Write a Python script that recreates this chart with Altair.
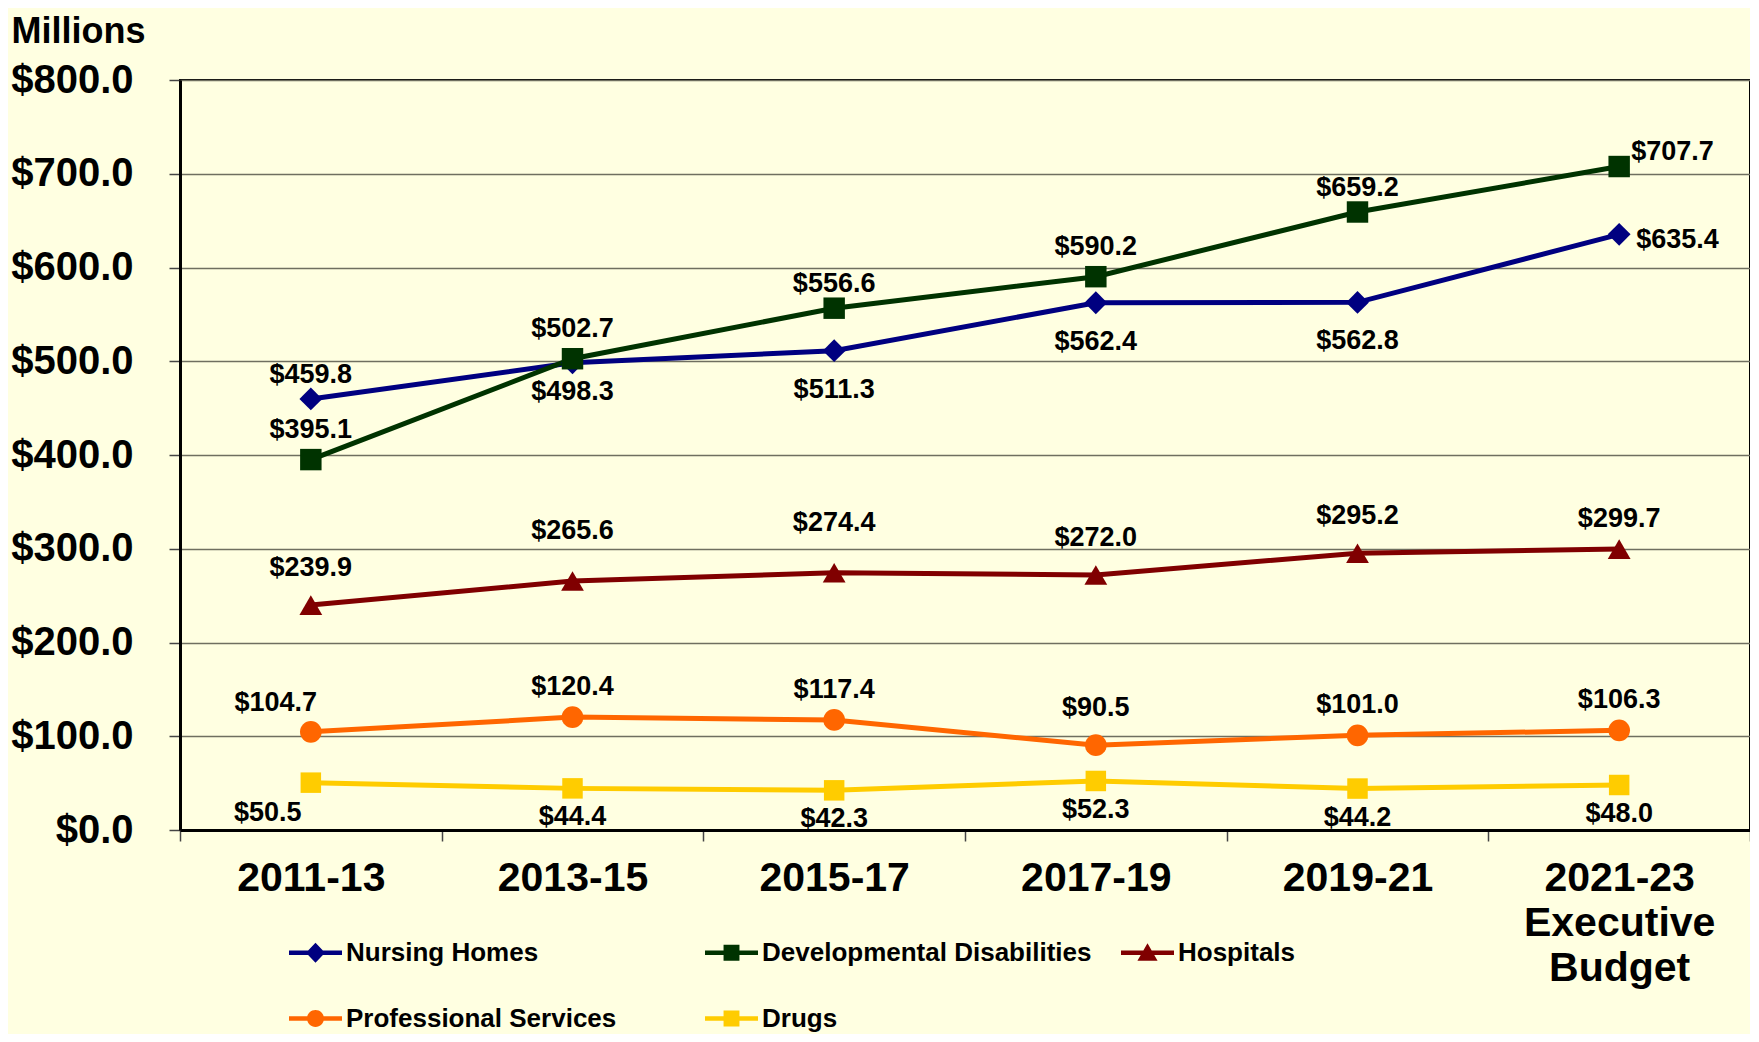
import altair as alt
import pandas as pd

# ---------------- data ----------------
PERIODS = ["2011-13", "2013-15", "2015-17", "2017-19", "2019-21", "2021-23\nExecutive\nBudget"]
SERIES = ["Nursing Homes", "Developmental Disabilities", "Hospitals", "Professional Services", "Drugs"]

NURSING_HOMES = [459.8, 498.3, 511.3, 562.4, 562.8, 635.4]
DEVELOPMENTAL = [395.1, 502.7, 556.6, 590.2, 659.2, 707.7]
HOSPITALS = [239.9, 265.6, 274.4, 272.0, 295.2, 299.7]
PROFESSIONAL = [104.7, 120.4, 117.4, 90.5, 101.0, 106.3]
DRUGS = [50.5, 44.4, 42.3, 52.3, 44.2, 48.0]
VALUES = [NURSING_HOMES, DEVELOPMENTAL, HOSPITALS, PROFESSIONAL, DRUGS]

# label placement (semantic codes, mapped to offsets below)
PLACE_NH = ["near-above", "below", "low", "low", "low", "right"]
PLACE_DD = ["above", "above", "near-above", "above", "near-above", "right-above"]
PLACE_HO = ["mid", "high", "high", "mid", "mid", "above"]
PLACE_PS = ["above-left", "above", "above", "mid", "above", "above"]
PLACE_DR = ["below-left", "below", "below", "below", "below", "below"]
PLACES = [PLACE_NH, PLACE_DD, PLACE_HO, PLACE_PS, PLACE_DR]

# ---------------- styles ----------------
COLORS = ["#000080", "#003300", "#800000", "#FF6600", "#FFCC00"]
MARKERS = ["diamond", "square", "triangle-up", "circle", "square"]
MARKER_SIZES = [520, 460, 520, 470, 420]
BG = "#FFFFE1"
FONT = "Liberation Sans"

PLACE_STYLE = {
    "near-above": dict(dx=0, dy=-24, align="center"),
    "above": dict(dx=0, dy=-30, align="center"),
    "mid": dict(dx=0, dy=-37, align="center"),
    "high": dict(dx=0, dy=-50, align="center"),
    "below": dict(dx=0, dy=29, align="center"),
    "low": dict(dx=0, dy=39, align="center"),
    "above-left": dict(dx=-35, dy=-29, align="center"),
    "below-left": dict(dx=-43, dy=30, align="center"),
    "right": dict(dx=17, dy=6, align="left"),
    "right-above": dict(dx=12, dy=-15, align="left"),
}

# legend symbols: a line segment with the series marker in its middle
LINE = "M-1,-0.085L1,-0.085L1,0.085L-1,0.085Z"
LEGEND_PATHS = [
    LINE + "M-0.36,0L0,-0.38L0.36,0L0,0.38Z",
    LINE + "M-0.3,-0.3L0.3,-0.3L0.3,0.3L-0.3,0.3Z",
    LINE + "M0,-0.36L0.38,0.3L-0.38,0.3Z",
    LINE + "M-0.32,0A0.32,0.32 0 1,1 0.32,0A0.32,0.32 0 1,1 -0.32,0Z",
    LINE + "M-0.3,-0.3L0.3,-0.3L0.3,0.3L-0.3,0.3Z",
]

rows = []
for s, vals, places in zip(SERIES, VALUES, PLACES):
    for p, v, pl in zip(PERIODS, vals, places):
        rows.append({"series": s, "period": p, "value": v, "place": pl})
df = pd.DataFrame(rows)

W, H = 1570, 750

x_enc = alt.X(
    "period:N",
    sort=PERIODS,
    scale=alt.Scale(type="band", domain=PERIODS, paddingInner=0, paddingOuter=0),
    axis=alt.Axis(
        title=None,
        tickBand="extent",
        ticks=True,
        tickSize=11,
        tickColor="#444444",
        tickWidth=1.5,
        domainColor="black",
        domainWidth=3,
        labelAngle=0,
        labelFont=FONT,
        labelFontSize=41,
        labelFontWeight="bold",
        labelColor="black",
        labelPadding=17,
        labelLineHeight=45,
        labelLimit=500,
        labelExpr="split(datum.label, '\\n')",
        labelBaseline="top",
        grid=False,
    ),
)

y_enc = alt.Y(
    "value:Q",
    scale=alt.Scale(domain=[0, 800], nice=False),
    axis=alt.Axis(
        values=list(range(0, 801, 100)),
        format="$.1f",
        labelFont=FONT,
        labelFontSize=40,
        labelFontWeight="bold",
        labelColor="black",
        labelPadding=36,
        tickSize=11,
        tickColor="#444444",
        tickWidth=1.5,
        domainColor="black",
        domainWidth=3,
        gridColor="#6f6f60",
        gridWidth=1.5,
        title="Millions",
        titleAngle=0,
        titleX=-169,
        titleY=-38,
        titleAlign="left",
        titleBaseline="alphabetic",
        titleFont=FONT,
        titleFontSize=36,
        titleFontWeight="bold",
        titleColor="black",
    ),
)

base = alt.Chart(df)

legend_spec = alt.Legend(
    title=None,
    orient="none",
    legendX=109,
    legendY=846,
    direction="horizontal",
    columns=3,
    gridAlign="all",
    columnPadding=29,
    rowPadding=26,
    symbolSize=2809,
    symbolStrokeWidth=0,
    symbolOpacity=1,
    labelFont=FONT,
    labelFontSize=26,
    labelFontWeight="bold",
    labelColor="black",
    labelOffset=4,
    labelLimit=600,
    padding=0,
)

# hidden carrier of the legend (clipped out of the plot area)
legend_layer = base.mark_point(filled=True, clip=True, opacity=1).encode(
    x=x_enc,
    y=alt.value(-1000),
    color=alt.Color("series:N", scale=alt.Scale(domain=SERIES, range=COLORS), legend=legend_spec),
    shape=alt.Shape(
        "series:N",
        scale=alt.Scale(domain=SERIES, range=LEGEND_PATHS),
        legend=legend_spec,
    ),
)

lines = base.mark_line(strokeWidth=5).encode(
    x=x_enc,
    y=y_enc,
    stroke=alt.Stroke("series:N", scale=alt.Scale(domain=SERIES, range=COLORS), legend=None),
    detail="series:N",
)

layers = [legend_layer, lines]

for s, shp, sz in zip(SERIES, MARKERS, MARKER_SIZES):
    layers.append(
        base.transform_filter(alt.datum.series == s)
        .mark_point(shape=shp, size=sz, filled=True, opacity=1, strokeWidth=0)
        .encode(
            x=x_enc,
            y=y_enc,
            fill=alt.Fill("series:N", scale=alt.Scale(domain=SERIES, range=COLORS), legend=None),
        )
    )

for code, st in PLACE_STYLE.items():
    layers.append(
        base.transform_filter(alt.datum.place == code)
        .mark_text(
            font=FONT,
            fontSize=27,
            fontWeight="bold",
            color="black",
            baseline="middle",
            align=st["align"],
            dx=st["dx"],
            dy=st["dy"],
        )
        .encode(x=x_enc, y=y_enc, text=alt.Text("value:Q", format="$.1f"))
    )

chart = (
    alt.layer(*layers)
    .properties(
        width=W,
        height=H,
        autosize=alt.AutoSizeParams(type="none"),
        padding={"left": 172, "top": 72, "right": 0, "bottom": 204},
        background=BG,
    )
    .configure_view(stroke="black", strokeWidth=2, fill=BG)
)

chart.save("out.html", embed_options={"renderer": "svg", "actions": False})
